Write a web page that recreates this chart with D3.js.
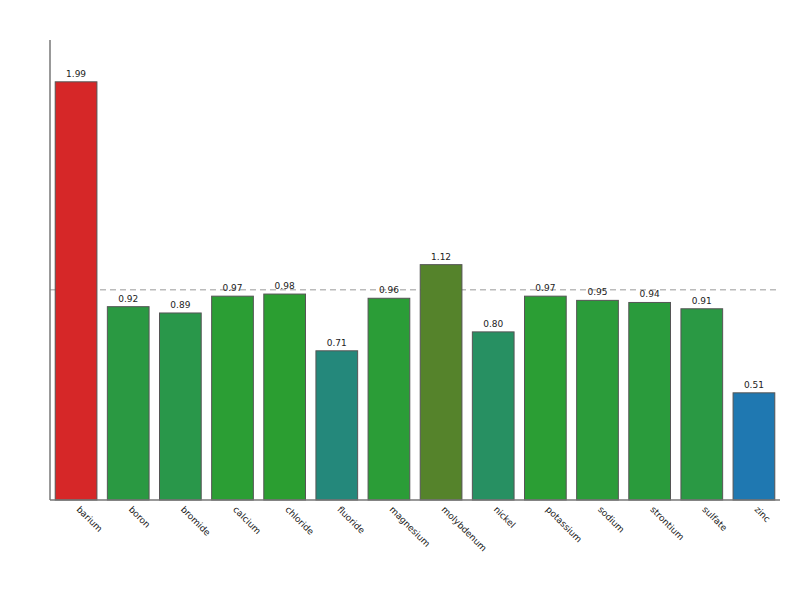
<!DOCTYPE html>
<html>
<head>
<meta charset="utf-8">
<script src="https://cdn.jsdelivr.net/npm/d3@7"></script>
<style>
  body { margin: 0; background: #fff; }
  text { font-family: "DejaVu Sans", sans-serif; fill: #222; }
</style>
</head>
<body>
<div class="svgContainer"></div>
<script>
var w = 800;
var h = 600;

var elements = ["barium", "boron", "bromide", "calcium", "chloride", "fluoride", "magnesium",
                "molybdenum", "nickel", "potassium", "sodium", "strontium", "sulfate", "zinc"];
var ratios = [1.99, 0.92, 0.89, 0.97, 0.98, 0.71, 0.96, 1.12, 0.80, 0.97, 0.95, 0.94, 0.91, 0.51];
var refValue = 1.0;

var svg = d3.select(".svgContainer")
            .append("svg")
            .attr("width", w)
            .attr("height", h);

var xScale = d3.scaleBand()
               .domain(elements)
               .range([50, 780])
               .paddingInner(0.2)
               .paddingOuter(0.1);

var yScale = d3.scaleLinear()
               .domain([0, d3.max(ratios) * 1.1])
               .range([500, 40]);

// blue below 1, green at 1, red above
var color = d3.scaleLinear()
              .domain([0.5, 1, 1.5])
              .range(["#1f77b4", "#2ca02c", "#d62728"])
              .clamp(true);

// reference line
svg.append("line")
   .attr("x1", 50)
   .attr("x2", 780)
   .attr("y1", yScale(refValue))
   .attr("y2", yScale(refValue))
   .attr("stroke", "#bbb")
   .attr("stroke-width", 1.5)
   .attr("stroke-dasharray", "6,4");

svg.selectAll("rect.bar")
   .data(ratios)
   .enter()
   .append("rect")
   .attr("class", "bar")
   .attr("x", (d, i) => xScale(elements[i]))
   .attr("y", d => yScale(d))
   .attr("width", xScale.bandwidth())
   .attr("height", d => yScale(0) - yScale(d))
   .attr("fill", d => color(d))
   .attr("stroke", "#555")
   .attr("stroke-width", 1);

svg.selectAll("text.val")
   .data(ratios)
   .enter()
   .append("text")
   .attr("class", "val")
   .attr("x", (d, i) => xScale(elements[i]) + xScale.bandwidth() / 2)
   .attr("y", d => yScale(d) - 5)
   .attr("text-anchor", "middle")
   .attr("font-size", 9)
   .text(d => d.toFixed(2));

var xAxis = d3.axisBottom(xScale).tickSize(0).tickPadding(0);
var xAxisGroup = svg.append("g")
                    .attr("transform", "translate(0, 500)")
                    .call(xAxis);
xAxisGroup.select(".domain").attr("stroke", "#777").attr("stroke-width", 1.5)
          .attr("d", "M50,0H780");
xAxisGroup.selectAll("text")
          .attr("font-size", 9)
          .attr("text-anchor", "start")
          .attr("dy", 0)
          .attr("transform", "translate(0,10) rotate(45)")
          .style("fill", "#222");

var yAxis = d3.axisLeft(yScale).tickSize(0).tickValues([]);
var yAxisGroup = svg.append("g")
                    .attr("transform", "translate(50, 0)")
                    .call(yAxis);
yAxisGroup.select(".domain").attr("stroke", "#777").attr("stroke-width", 1.5)
          .attr("d", "M0,40V500");
</script>
</body>
</html>
